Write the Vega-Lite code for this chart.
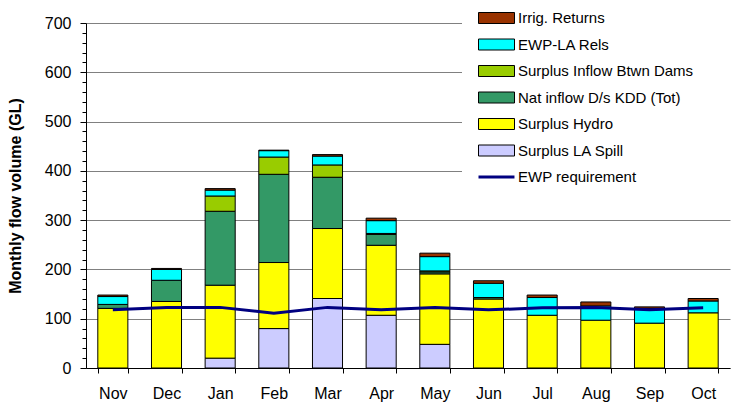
{
  "$schema": "https://vega.github.io/schema/vega-lite/v6.json",
  "width": 644,
  "height": 345,
  "autosize": "none",
  "padding": {"left": 86, "top": 23, "right": 5, "bottom": 39},
  "background": "white",
  "datasets": {
    "flows": [
      {"month": "Nov", "series": "Surplus Hydro", "k": 2, "value": 121},
      {"month": "Nov", "series": "Nat inflow D/s KDD (Tot)", "k": 3, "value": 8},
      {"month": "Nov", "series": "EWP-LA Rels", "k": 5, "value": 16},
      {"month": "Nov", "series": "Irrig. Returns", "k": 6, "value": 3},
      {"month": "Dec", "series": "Surplus Hydro", "k": 2, "value": 135},
      {"month": "Dec", "series": "Nat inflow D/s KDD (Tot)", "k": 3, "value": 43},
      {"month": "Dec", "series": "EWP-LA Rels", "k": 5, "value": 22},
      {"month": "Dec", "series": "Irrig. Returns", "k": 6, "value": 2},
      {"month": "Jan", "series": "Surplus LA Spill", "k": 1, "value": 20},
      {"month": "Jan", "series": "Surplus Hydro", "k": 2, "value": 148},
      {"month": "Jan", "series": "Nat inflow D/s KDD (Tot)", "k": 3, "value": 150},
      {"month": "Jan", "series": "Surplus Inflow Btwn Dams", "k": 4, "value": 31},
      {"month": "Jan", "series": "EWP-LA Rels", "k": 5, "value": 12},
      {"month": "Jan", "series": "Irrig. Returns", "k": 6, "value": 3},
      {"month": "Feb", "series": "Surplus LA Spill", "k": 1, "value": 80},
      {"month": "Feb", "series": "Surplus Hydro", "k": 2, "value": 134},
      {"month": "Feb", "series": "Nat inflow D/s KDD (Tot)", "k": 3, "value": 179},
      {"month": "Feb", "series": "Surplus Inflow Btwn Dams", "k": 4, "value": 35},
      {"month": "Feb", "series": "EWP-LA Rels", "k": 5, "value": 13},
      {"month": "Feb", "series": "Irrig. Returns", "k": 6, "value": 1},
      {"month": "Mar", "series": "Surplus LA Spill", "k": 1, "value": 141},
      {"month": "Mar", "series": "Surplus Hydro", "k": 2, "value": 142},
      {"month": "Mar", "series": "Nat inflow D/s KDD (Tot)", "k": 3, "value": 104},
      {"month": "Mar", "series": "Surplus Inflow Btwn Dams", "k": 4, "value": 25},
      {"month": "Mar", "series": "EWP-LA Rels", "k": 5, "value": 18},
      {"month": "Mar", "series": "Irrig. Returns", "k": 6, "value": 3},
      {"month": "Apr", "series": "Surplus LA Spill", "k": 1, "value": 107},
      {"month": "Apr", "series": "Surplus Hydro", "k": 2, "value": 142},
      {"month": "Apr", "series": "Nat inflow D/s KDD (Tot)", "k": 3, "value": 22},
      {"month": "Apr", "series": "Surplus Inflow Btwn Dams", "k": 4, "value": 2},
      {"month": "Apr", "series": "EWP-LA Rels", "k": 5, "value": 26},
      {"month": "Apr", "series": "Irrig. Returns", "k": 6, "value": 5},
      {"month": "May", "series": "Surplus LA Spill", "k": 1, "value": 48},
      {"month": "May", "series": "Surplus Hydro", "k": 2, "value": 143},
      {"month": "May", "series": "Nat inflow D/s KDD (Tot)", "k": 3, "value": 4},
      {"month": "May", "series": "Surplus Inflow Btwn Dams", "k": 4, "value": 2},
      {"month": "May", "series": "EWP-LA Rels", "k": 5, "value": 29},
      {"month": "May", "series": "Irrig. Returns", "k": 6, "value": 7},
      {"month": "Jun", "series": "Surplus Hydro", "k": 2, "value": 140},
      {"month": "Jun", "series": "Nat inflow D/s KDD (Tot)", "k": 3, "value": 3},
      {"month": "Jun", "series": "EWP-LA Rels", "k": 5, "value": 29},
      {"month": "Jun", "series": "Irrig. Returns", "k": 6, "value": 5},
      {"month": "Jul", "series": "Surplus Hydro", "k": 2, "value": 107},
      {"month": "Jul", "series": "EWP-LA Rels", "k": 5, "value": 36},
      {"month": "Jul", "series": "Irrig. Returns", "k": 6, "value": 5},
      {"month": "Aug", "series": "Surplus Hydro", "k": 2, "value": 97},
      {"month": "Aug", "series": "EWP-LA Rels", "k": 5, "value": 29},
      {"month": "Aug", "series": "Irrig. Returns", "k": 6, "value": 8},
      {"month": "Sep", "series": "Surplus Hydro", "k": 2, "value": 91},
      {"month": "Sep", "series": "EWP-LA Rels", "k": 5, "value": 30},
      {"month": "Sep", "series": "Irrig. Returns", "k": 6, "value": 3},
      {"month": "Oct", "series": "Surplus Hydro", "k": 2, "value": 112},
      {"month": "Oct", "series": "EWP-LA Rels", "k": 5, "value": 24},
      {"month": "Oct", "series": "Irrig. Returns", "k": 6, "value": 5}
    ],
    "req": [
      {"month": "Nov", "value": 118},
      {"month": "Dec", "value": 123},
      {"month": "Jan", "value": 123},
      {"month": "Feb", "value": 111},
      {"month": "Mar", "value": 123},
      {"month": "Apr", "value": 118},
      {"month": "May", "value": 123},
      {"month": "Jun", "value": 118},
      {"month": "Jul", "value": 122},
      {"month": "Aug", "value": 123},
      {"month": "Sep", "value": 118},
      {"month": "Oct", "value": 122}
    ]
  },
  "layer": [
    {
      "data": {"name": "flows"},
      "mark": {"type": "bar", "stroke": "black", "strokeWidth": 1},
      "encoding": {
        "x": {
          "field": "month", "type": "nominal",
          "sort": ["Nov","Dec","Jan","Feb","Mar","Apr","May","Jun","Jul","Aug","Sep","Oct"],
          "scale": {"paddingInner": 0.44, "paddingOuter": 0.22},
          "axis": {
            "title": null, "labelAngle": 0, "labelFontSize": 16, "labelColor": "black",
            "domainColor": "black", "tickColor": "black", "tickBand": "extent",
            "tickSize": 5, "labelPadding": 12, "grid": false
          }
        },
        "y": {
          "field": "value", "type": "quantitative", "stack": "zero",
          "scale": {"domain": [0, 700], "nice": false},
          "axis": {
            "title": "Monthly flow volume (GL)",
            "titleFontSize": 16, "titleFontWeight": "bold", "titleColor": "black", "titlePadding": 21,
            "values": [0,20,40,60,80,100,120,140,160,180,200,220,240,260,280,300,320,340,360,380,400,420,440,460,480,500,520,540,560,580,600,620,640,660,680,700],
            "tickCount": 50,
            "labelExpr": "datum.value % 100 === 0 ? datum.label : ''",
            "labelOverlap": false,
            "labelFontSize": 16, "labelColor": "black", "labelPadding": 9,
            "domainColor": "black", "tickColor": "black",
            "tickSize": {"condition": {"test": "datum.value % 100 === 0", "value": 6}, "value": 4},
            "grid": true, "gridColor": "#808080", "gridWidth": 1,
            "gridOpacity": {"condition": {"test": "datum.value % 100 === 0", "value": 1}, "value": 0}
          }
        },
        "fill": {
          "field": "series", "type": "nominal",
          "scale": {
            "domain": ["Irrig. Returns", "EWP-LA Rels", "Surplus Inflow Btwn Dams", "Nat inflow D/s KDD (Tot)", "Surplus Hydro", "Surplus LA Spill"],
            "range": ["#993300", "#00FFFF", "#99CC00", "#339966", "#FFFF00", "#CCCCFF"]
          },
          "legend": {
            "title": null, "orient": "none", "legendX": 376, "legendY": -24.5,
            "padding": 12, "fillColor": "white",
            "symbolType": "M-0.545,-1H6V1H-0.545ZM45,0", "symbolSize": 121,
            "symbolStrokeColor": "black", "symbolStrokeWidth": 1,
            "labelFontSize": 15, "labelColor": "black", "labelOffset": 29,
            "rowPadding": 10.5, "labelLimit": 400
          }
        },
        "order": {"field": "k", "type": "quantitative"}
      }
    },
    {
      "data": {"name": "req"},
      "mark": {"type": "line", "strokeWidth": 3},
      "encoding": {
        "x": {"field": "month", "type": "nominal", "sort": ["Nov","Dec","Jan","Feb","Mar","Apr","May","Jun","Jul","Aug","Sep","Oct"]},
        "y": {"field": "value", "type": "quantitative"},
        "stroke": {
          "datum": "EWP requirement",
          "scale": {"range": ["#000080"]},
          "legend": {
            "title": null, "orient": "none", "legendX": 376, "legendY": 142.5,
            "padding": 4, "fillColor": "white",
            "symbolType": "M0.91,0H7.45M48,0", "symbolSize": 121, "symbolStrokeWidth": 3,
            "labelFontSize": 15, "labelColor": "black", "labelOffset": 37,
            "labelLimit": 400
          }
        }
      }
    }
  ],
  "config": {
    "view": {"stroke": null},
    "font": "Liberation Sans"
  }
}
